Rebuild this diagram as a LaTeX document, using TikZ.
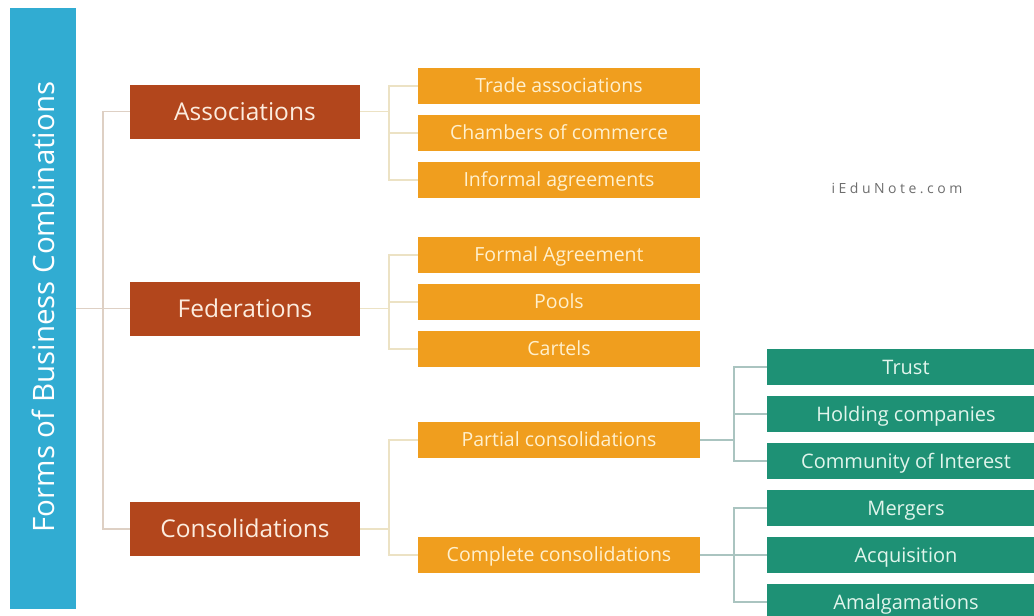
\documentclass[tikz,border=0pt]{standalone}
\usepackage{fontspec}
\setmainfont{Open Sans}
\definecolor{barblue}{RGB}{49,172,210}
\definecolor{redbox}{RGB}{178,70,28}
\definecolor{orangebox}{RGB}{240,158,30}
\definecolor{greenbox}{RGB}{30,145,117}
\definecolor{lineA}{RGB}{222,208,196}
\definecolor{lineB}{RGB}{236,226,196}
\definecolor{lineC}{RGB}{170,196,192}
\definecolor{mark}{RGB}{110,110,110}
\definecolor{redtext}{RGB}{252,236,222}
\definecolor{ortext}{RGB}{255,240,205}
\definecolor{grtext}{RGB}{225,245,236}
\tikzset{
  redb/.style={fill=redbox, text=redtext, minimum width=230pt, minimum height=54pt, inner sep=0pt, text height=17.5pt, text depth=0pt, font=\fontsize{24.5}{28}\selectfont},
  orb/.style={fill=orangebox, text=ortext, minimum width=282pt, minimum height=36pt, inner sep=0pt, text height=13.9pt, text depth=0pt, font=\fontsize{19.5}{23}\selectfont},
  grb/.style={fill=greenbox, text=grtext, minimum width=278pt, minimum height=36pt, inner sep=0pt, text height=14.3pt, text depth=0pt, font=\fontsize{20}{23}\selectfont},
  conA/.style={draw=lineA, line width=1.5pt},
  conB/.style={draw=lineB, line width=1.5pt},
  conC/.style={draw=lineC, line width=1.5pt}
}
\begin{document}
\begin{tikzpicture}[x=1pt,y=-1pt]
\useasboundingbox (0,0) rectangle (1034,616);
\clip (0,0) rectangle (1034,616);
\fill[white] (0,0) rectangle (1034,616);
\node[fill=barblue, minimum width=66pt, minimum height=601pt, inner sep=0pt] (bar) at (43,308.5) {};
\node[rotate=90, text=white, font=\fontsize{29.5}{34}\selectfont] (bartext) at (43,307) {Forms of Business Combinations};

\node[redb] (assoc) at (245,111.5) {Associations};
\node[redb] (fed) at (245,308.5) {Federations};
\node[redb] (cons) at (245,529) {Consolidations};

\node[orb] (o1) at (559,86) {Trade associations};
\node[orb] (o2) at (559,133) {Chambers of commerce};
\node[orb] (o3) at (559,180) {Informal agreements};
\node[orb] (o4) at (559,255) {Formal Agreement};
\node[orb] (o5) at (559,302) {Pools};
\node[orb] (o6) at (559,349) {Cartels};
\node[orb] (o7) at (559,440) {Partial consolidations};
\node[orb] (o8) at (559,555) {Complete consolidations};

\node[grb] (g1) at (906,367) {Trust};
\node[grb] (g2) at (906,414) {Holding companies};
\node[grb] (g3) at (906,461) {Community of Interest};
\node[grb] (g4) at (906,508) {Mergers};
\node[grb] (g5) at (906,555) {Acquisition};
\node[grb] (g6) at (906,602) {Amalgamations};

\node[text=mark, font=\fontsize{14}{16}\selectfont\addfontfeatures{LetterSpace=25}] (wm) at (897,188) {iEduNote.com};

\coordinate (t1) at (103,0);
\coordinate (t2) at (389,0);
\coordinate (t3) at (734,0);

% level 1
\draw[conA] (bar.east |- fed.west) -- (fed.west);
\draw[conA] (assoc.west) -- (assoc.west -| t1) -- (cons.west -| t1) -- (cons.west);

% associations group
\draw[conB] (assoc.east) -- (assoc.east -| t2);
\draw[conB] (o1.west) -- (o1.west -| t2) -- (o3.west -| t2) -- (o3.west);
\draw[conB] (o2.west) -- (o2.west -| t2);

% federations group
\draw[conB] (fed.east) -- (fed.east -| t2);
\draw[conB] (o4.west) -- (o4.west -| t2) -- (o6.west -| t2) -- (o6.west);
\draw[conB] (o5.west) -- (o5.west -| t2);

% consolidations group
\draw[conB] (cons.east) -- (cons.east -| t2);
\draw[conB] (o7.west) -- (o7.west -| t2) -- (o8.west -| t2) -- (o8.west);

% partial group
\draw[conC] (o7.east) -- (o7.east -| t3);
\draw[conC] (g1.west) -- (g1.west -| t3) -- (g3.west -| t3) -- (g3.west);
\draw[conC] (g2.west) -- (g2.west -| t3);

% complete group
\draw[conC] (o8.east) -- (g5.west);
\draw[conC] (g4.west) -- (g4.west -| t3) -- (g6.west -| t3) -- (g6.west);
\end{tikzpicture}
\end{document}
